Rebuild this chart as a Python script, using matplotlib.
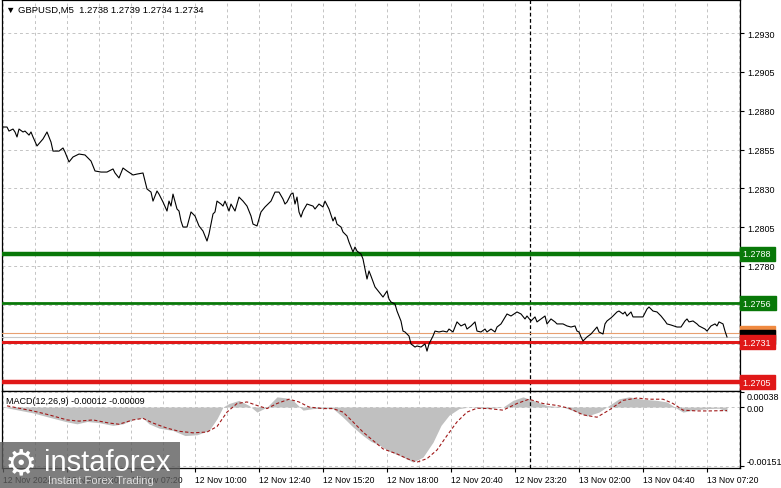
import matplotlib
matplotlib.use("Agg")
import matplotlib.pyplot as plt
import matplotlib.transforms as mtransforms
from matplotlib.patches import Rectangle
from matplotlib.ticker import FixedLocator

plt.rcParams["font.family"] = ["Liberation Sans", "DejaVu Sans"]

# GBPUSD M5 closes, bar index -> close
BARS = [0, 2, 3, 5, 6, 7, 8, 10, 11, 13, 14, 15, 17, 20, 22, 24, 25, 28, 30, 31,
        33, 35, 38, 41, 44, 46, 49, 52, 55, 56, 58, 60, 62, 65, 67, 70, 72, 74, 75, 77,
        78, 80, 82, 83, 84, 85, 87, 88, 89, 90, 92, 94,
        96, 98, 100, 102, 103, 105, 106, 107, 109, 110, 111, 113, 114, 116, 118, 120, 122, 124, 125, 127,
        129, 131, 134, 136, 138, 140, 141, 142, 144, 145, 146, 147, 148, 149, 150, 152, 155, 156, 158, 160,
        161, 163, 165, 166, 167, 169, 170, 172, 173, 175, 176, 177, 179, 180, 182, 183, 184, 186, 188, 190,
        192, 193, 194, 196, 197, 199,
        200, 201, 203, 204, 206, 207, 209, 211, 212, 213, 215, 216, 218, 220, 222, 223, 225, 227, 229, 231,
        232, 234, 236, 237, 239, 241, 242, 244, 246, 247, 249, 252, 254, 257, 259, 261, 262, 264, 266, 267,
        269, 271, 272, 274, 276, 277, 280, 282, 284, 286, 287, 288,
        289, 290, 292, 294, 297, 298, 300, 301, 302, 304, 305, 307, 308, 310, 311, 312, 314, 315, 318, 320,
        322, 323, 325, 327, 329, 331, 332, 334, 337, 339, 341, 342, 343, 345, 347, 348, 351, 352, 354, 356,
        357, 358, 360, 361, 362]
CLOSES = [1.28695, 1.28695, 1.28669, 1.28682, 1.28663, 1.28631, 1.28682, 1.28663, 1.28669, 1.28643,
          1.28663, 1.28631, 1.28573, 1.28618, 1.28663, 1.28598, 1.28540, 1.28540, 1.28560, 1.28534,
          1.28470, 1.28502, 1.28521, 1.28515, 1.28476, 1.28412, 1.28405, 1.28405, 1.28425, 1.28399,
          1.28367, 1.28431, 1.28412, 1.28386, 1.28392, 1.28399, 1.28296, 1.28276, 1.28218, 1.28283,
          1.28263, 1.28212, 1.28154, 1.28218, 1.28186, 1.28263, 1.28167, 1.28154, 1.28090, 1.28051,
          1.28051, 1.28148,
          1.28122, 1.28058, 1.28025, 1.27961, 1.28006, 1.28135, 1.28148, 1.28218, 1.28199, 1.28186,
          1.28218, 1.28154, 1.28199, 1.28154, 1.28244, 1.28218, 1.28186, 1.28122, 1.28070, 1.28058,
          1.28148, 1.28180, 1.28218, 1.28276, 1.28276, 1.28231, 1.28199, 1.28212, 1.28263, 1.28270,
          1.28199, 1.28244, 1.28148, 1.28115, 1.28154, 1.28199, 1.28186, 1.28167, 1.28199, 1.28180,
          1.28218, 1.28167, 1.28090, 1.28115, 1.28070, 1.28051, 1.28019, 1.27993, 1.27954, 1.27890,
          1.27922, 1.27896, 1.27877, 1.27845, 1.27716, 1.27768, 1.27735, 1.27665, 1.27632, 1.27600,
          1.27639, 1.27587, 1.27568, 1.27555, 1.27510, 1.27445,
          1.27381, 1.27375, 1.27349, 1.27298, 1.27278, 1.27285, 1.27278, 1.27298, 1.27252, 1.27298,
          1.27349, 1.27381, 1.27375, 1.27381, 1.27375, 1.27394, 1.27375, 1.27440, 1.27414, 1.27427,
          1.27394, 1.27414, 1.27440, 1.27381, 1.27375, 1.27394, 1.27375, 1.27394, 1.27375, 1.27407,
          1.27427, 1.27491, 1.27478, 1.27504, 1.27491, 1.27459, 1.27478, 1.27446, 1.27472, 1.27440,
          1.27459, 1.27478, 1.27427, 1.27459, 1.27440, 1.27427, 1.27427, 1.27414, 1.27407, 1.27414,
          1.27381, 1.27375,
          1.27343, 1.27317, 1.27343, 1.27362, 1.27407, 1.27375, 1.27362, 1.27427, 1.27446, 1.27466,
          1.27478, 1.27504, 1.27510, 1.27491, 1.27504, 1.27478, 1.27504, 1.27472, 1.27472, 1.27472,
          1.27523, 1.27536, 1.27510, 1.27504, 1.27478, 1.27446, 1.27427, 1.27420, 1.27407, 1.27407,
          1.27446, 1.27459, 1.27440, 1.27446, 1.27427, 1.27414, 1.27394, 1.27381, 1.27414, 1.27427,
          1.27414, 1.27440, 1.27427, 1.27381, 1.27343]

# MACD(12,26,9)
MACD_BARS = [0, 8, 15, 23, 32, 37, 42, 48, 55, 60, 65, 70, 73, 78, 85, 91, 97, 103, 107, 110,
             113, 118, 123, 127, 132, 137, 142, 145, 150, 155, 160, 165, 170, 175, 180, 184, 188, 193, 200, 205,
             210, 215, 219, 223, 228, 233, 242, 250, 255, 260, 265, 272, 280, 287, 292, 298, 303, 308, 313, 320,
             327, 332, 337, 340, 345, 352, 358, 362]
MACD_HIST = [0.0, -0.00008, -0.00015, -0.00026, -0.00038, -0.00043, -0.00037, -0.0004, -0.00047, -0.00043,
             -0.00032, -0.00028, -0.00043, -0.00054, -0.0006, -0.00073, -0.00071, -0.0006, -0.0003, 0.0,
             0.00009, 0.00017, 0.00004, -0.00013, 0.0, 0.00026, 0.00023, 0.00017, -0.00008, -0.00004,
             -0.00003, -0.00004, -0.00026, -0.00051, -0.00073, -0.00088, -0.00097, -0.00113, -0.00128, -0.00141,
             -0.00128, -0.0009, -0.00047, -0.00021, -0.00004, 0.0, -0.00004, 0.0, 0.00017, 0.00026,
             0.00017, 0.00004, 0.0, -0.00013, -0.00023, -0.00013, 0.00004, 0.00021, 0.00026, 0.0002,
             0.00017, 0.00013, -0.00004, -0.00013, -0.00008, -0.00004, -0.00003, -0.00012]
SIGNAL_BARS = [2, 15, 23, 32, 38, 45, 53, 58, 65, 70, 75, 82, 88, 95, 102, 107, 112, 117, 122, 127,
               132, 137, 143, 148, 153, 160, 165, 170, 175, 180, 183, 190, 197, 202, 207, 212, 217, 222, 227, 232,
               237, 243, 250, 257, 263, 270, 277, 283, 290, 297, 303, 310, 317, 323, 330, 335, 340, 347, 353, 362]
SIGNAL = [0.00003, -0.0001, -0.0002, -0.00033, -0.00036, -0.00033, -0.00041, -0.00044, -0.00033, -0.00029,
          -0.00041, -0.00054, -0.00062, -0.00066, -0.00064, -0.0005, -0.00013, 0.00009, 0.00013, 0.00004,
          -0.00004, 0.00009, 0.0002, 0.00013, 0.0, -0.00004, -0.00004, -0.00013, -0.00038, -0.00064,
          -0.00077, -0.00107, -0.0012, -0.00132, -0.00141, -0.00132, -0.0011, -0.00073, -0.00038, -0.00013,
          -0.00003, -0.00004, -0.00008, 0.00009, 0.0002, 0.00009, 0.00004, -0.00003, -0.0002, -0.00026,
          -0.00008, 0.00017, 0.00023, 0.0002, 0.0002, 0.00009, -0.00008, -0.0001, -0.0001, -0.00009]

TIME_TICKS = [0, 32, 64, 96, 128, 160, 192, 224, 256, 288, 320, 352]
TIME_LABELS = ["12 Nov 2024", "12 Nov 04:40", "12 Nov 07:20", "12 Nov 10:00", "12 Nov 12:40",
               "12 Nov 15:20", "12 Nov 18:00", "12 Nov 20:40", "12 Nov 23:20", "13 Nov 02:00",
               "13 Nov 04:40", "13 Nov 07:20"]
PRICE_TICKS = [1.2705, 1.2730, 1.2755, 1.2780, 1.2805, 1.2830, 1.2855, 1.2880, 1.2905, 1.2930]
PRICE_LABELS = ["", "", "1.2755", "1.2780", "1.2805", "1.2830", "1.2855", "1.2880", "1.2905", "1.2930"]

LEVELS = [1.2788, 1.2756, 1.2737, 1.2734, 1.2731, 1.2705]
LEVEL_COLORS = ["#087808", "#087808", "#e8a070", "#c8c8c8", "#e01818", "#e01818"]
LEVEL_WIDTHS = [3.2, 2.0, 0.8, 0.8, 2.2, 3.2]
BOX_COLORS = ["#087808", "#087808", "#f08a40", "#000000", "#e01818", "#e01818"]

FS = 6.5
W, H = 781, 489
fig = plt.figure(figsize=(W / 100, H / 100), dpi=100)
fig.patch.set_facecolor("white")

ax = fig.add_axes([2 / W, 1 - 392 / H, 738 / W, 391 / H])
ax2 = fig.add_axes([2 / W, 1 - 469 / H, 738 / W, 77 / H])

grid_kw = dict(color="#c4c4c4", linestyle=(0, (3, 3)), linewidth=0.7)

# price panel
ax.plot(BARS, CLOSES, color="black", linewidth=0.8, zorder=4)
for lvl, col, lw in zip(LEVELS, LEVEL_COLORS, LEVEL_WIDTHS):
    ax.axhline(lvl, color=col, linewidth=lw, zorder=3)
ax.axvline(263.5, color="black", linestyle=(0, (3, 2)), linewidth=0.9, zorder=2)

ax.set_xlim(-0.5, 368.5)
ax.set_ylim(1.26995, 1.29513)
ax.xaxis.set_major_locator(FixedLocator(list(range(0, 369, 16))))
ax.tick_params(axis="x", length=0, labelbottom=False)
ax.yaxis.tick_right()
ax.set_yticks(PRICE_TICKS)
ax.set_yticklabels(PRICE_LABELS)
ax.tick_params(axis="y", direction="out", length=3, pad=2, labelsize=FS, width=0.8)
ax.grid(True, **grid_kw)
ax.set_axisbelow(True)
for s in ax.spines.values():
    s.set_linewidth(0.9)

trans = mtransforms.blended_transform_factory(ax.transAxes, ax.transData)
for k, (lvl, bc) in enumerate(zip(LEVELS, BOX_COLORS)):
    ax.text(1.004, lvl, f"{lvl:.4f} ", transform=trans, ha="left", va="center",
            fontsize=FS, color="white", clip_on=False, zorder=10 + k,
            bbox=dict(boxstyle="square,pad=0.28", fc=bc, ec=bc))

ax.text(0.005, 0.988, "\u25bc GBPUSD,M5  1.2738 1.2739 1.2734 1.2734", transform=ax.transAxes,
        ha="left", va="top", fontsize=6.8, zorder=20)

# MACD panel
ax2.fill_between(MACD_BARS, 0, MACD_HIST, color="#c0c0c0", linewidth=0, zorder=2)
ax2.plot(SIGNAL_BARS, SIGNAL, color="#a01818", linestyle=(0, (3, 2)), linewidth=0.8, zorder=3)
ax2.axvline(263.5, color="black", linestyle=(0, (3, 2)), linewidth=0.9, zorder=2)
ax2.set_xlim(-0.5, 368.5)
ax2.set_ylim(-0.00156, 0.00041)
ax2.set_xticks(TIME_TICKS)
ax2.set_xticklabels(TIME_LABELS, ha="left")
ax2.xaxis.set_minor_locator(FixedLocator(list(range(16, 369, 32))))
ax2.tick_params(axis="x", which="major", direction="out", length=3, pad=2, labelsize=6.2)
ax2.tick_params(axis="x", which="minor", length=0)
ax2.yaxis.tick_right()
ax2.set_yticks([-0.00151, 0.0, 0.00038])
ax2.set_yticklabels(["-0.00151", "0.00", "0.00038"])
ax2.tick_params(axis="y", direction="out", length=3, pad=2, labelsize=FS, width=0.8)
ylabs = ax2.get_yticklabels()
ylabs[0].set_va("bottom")
ylabs[2].set_va("top")
ax2.grid(True, which="both", **grid_kw)
ax2.set_axisbelow(True)
for s in ax2.spines.values():
    s.set_linewidth(0.9)
ax2.text(0.006, 0.93, "MACD(12,26,9) -0.00012 -0.00009", transform=ax2.transAxes,
         ha="left", va="top", fontsize=FS, zorder=20)

# watermark
fig.patches.append(Rectangle((0, 0), 180 / W, 46 / H, transform=fig.transFigure,
                             facecolor="#5e5e5e", alpha=0.8, edgecolor="none", zorder=30))
fig.text(5 / W, 1 - 474 / H, "\u2699", fontsize=26, color="white", family="DejaVu Sans",
         ha="left", va="baseline", zorder=31)
fig.text(44 / W, 1 - 471 / H, "instaforex", fontsize=21, color="white",
         ha="left", va="baseline", zorder=31)
fig.text(48 / W, 1 - 484 / H, "Instant Forex Trading", fontsize=8, color="#dddddd",
         ha="left", va="baseline", zorder=31)

fig.savefig("out.png", dpi=100)
